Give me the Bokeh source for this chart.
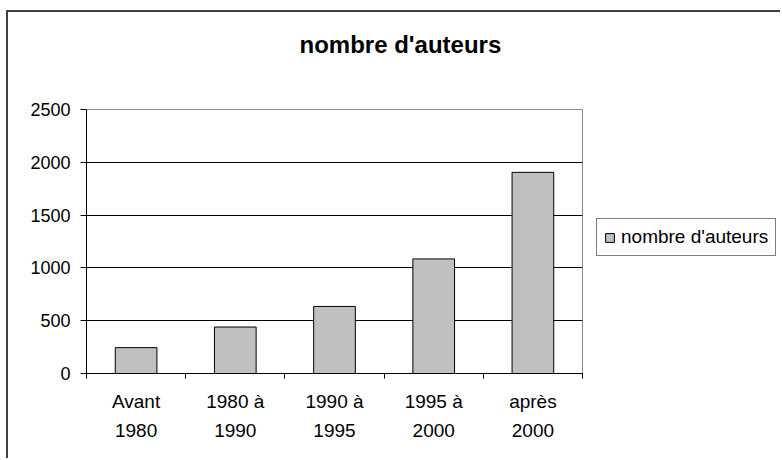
from bokeh.plotting import figure
from bokeh.models import (Range1d, FixedTicker, Legend, LegendItem, ColumnDataSource, Title)
from bokeh.layouts import row
from bokeh.embed import file_html
from bokeh.resources import INLINE

# ---- data ----
categories = ["Avant\n1980", "1980 à\n1990", "1990 à\n1995", "1995 à\n2000", "après\n2000"]
values = [245, 440, 635, 1085, 1905]
y_ticks = [0, 500, 1000, 1500, 2000, 2500]
series_name = "nombre d'auteurs"
chart_title = "nombre d'auteurs"

FONT = "Liberation Sans"
BAR_FILL = "#c0c0c0"
n = len(categories)
centers = [i + 0.5 for i in range(n)]
bounds = list(range(n + 1))

src = ColumnDataSource(dict(x=centers, top=values, cat=categories))

# ---------------- main chart ----------------
p = figure(width=584, height=448, output_backend="svg", toolbar_location=None,
           x_range=Range1d(0, n), y_range=Range1d(y_ticks[0], y_ticks[-1]),
           min_border_left=78, min_border_right=10, min_border_top=97, min_border_bottom=87,
           tools="", title_location=None)
p.margin = (10, 0, 0, 6)
p.styles = {"border-left": "2px solid #404040", "border-top": "2px solid #404040"}

p.background_fill_color = "white"
p.border_fill_color = "white"
p.outline_line_color = "#8c8c8c"
p.outline_line_width = 1

bars = p.vbar(x="x", top="top", width=0.42, bottom=0, source=src,
              fill_color=BAR_FILL, line_color="black", line_width=1)

# blank spacer panel between the frame and the title (inner-most "above" item)
spacer = Title(text=" ", text_font_size="1px", standoff=44)
p.add_layout(spacer, "above")

# title (stacked outside the spacer)
title = Title(text=chart_title, text_font=FONT, text_font_style="bold",
              text_font_size="24px", text_color="black",
              align="left", offset=213, standoff=10)
p.add_layout(title, "above")

# x axis
xa = p.below[0]
xa.ticker = FixedTicker(ticks=centers, minor_ticks=bounds)
xa.major_label_overrides = {c: lab for c, lab in zip(centers, categories)}
xa.major_tick_out = 0
xa.major_tick_in = 0
xa.minor_tick_out = 5
xa.minor_tick_in = 0
xa.minor_tick_line_color = "black"
xa.axis_line_color = "black"
xa.major_label_text_font = FONT
xa.major_label_text_font_size = "19px"
xa.major_label_text_color = "black"
xa.major_label_text_line_height = 1.4
xa.major_label_standoff = 12

# y axis
ya = p.yaxis[0]
ya.ticker = FixedTicker(ticks=y_ticks)
ya.major_tick_out = 6
ya.major_tick_in = 0
ya.minor_tick_out = 0
ya.minor_tick_in = 0
ya.major_tick_line_color = "black"
ya.axis_line_color = "black"
ya.major_label_text_font = FONT
ya.major_label_text_font_size = "18px"
ya.major_label_text_color = "black"
ya.major_label_standoff = 10

# grid
p.xgrid.visible = False
p.ygrid.ticker = FixedTicker(ticks=y_ticks[1:-1])
p.ygrid.grid_line_color = "black"
p.ygrid.grid_line_width = 1

# ---------------- legend panel ----------------
q = figure(width=190, height=448, output_backend="svg", toolbar_location=None, tools="",
           x_axis_type=None, y_axis_type=None,
           min_border_left=0, min_border_right=0, min_border_top=0, min_border_bottom=0)
q.margin = (10, 0, 0, 0)
q.styles = {"border-top": "2px solid #404040"}
q.outline_line_color = None
q.background_fill_color = "white"
q.border_fill_color = "white"
swatch = q.vbar(x="x", top="top", width=0.42, source=src,
                fill_color=BAR_FILL, line_color="black", line_width=1)
swatch.visible = False

legend = Legend(items=[LegendItem(label=series_name, renderers=[swatch])],
                location=(6, 117), margin=0, padding=7,
                glyph_width=11, glyph_height=11, label_standoff=6,
                label_text_font=FONT, label_text_font_size="19px",
                label_text_line_height=1.0,
                label_text_color="black",
                border_line_color="black", border_line_width=1,
                background_fill_color="white", background_fill_alpha=1.0,
                inactive_fill_alpha=0.0)
q.add_layout(legend, "center")

layout = row(p, q)
open("out.html", "w").write(file_html(layout, INLINE))
